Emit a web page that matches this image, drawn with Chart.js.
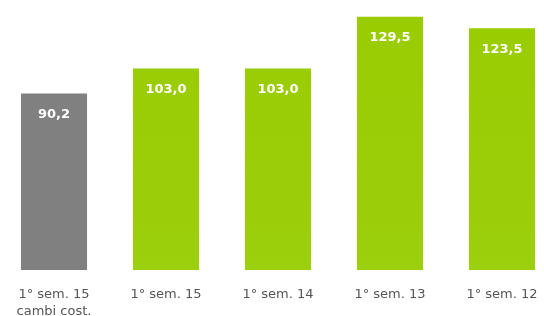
<!DOCTYPE html>
<html>
<head>
<meta charset="utf-8">
<script src="https://cdn.jsdelivr.net/npm/chart.js@4/dist/chart.umd.min.js"></script>
<style>
  html, body { margin: 0; padding: 0; background: #fff; }
  #wrap { width: 544px; height: 316px; }
</style>
</head>
<body>
<div id="wrap"><canvas id="chart"></canvas></div>
<script>
const categories = [["1° sem. 15", "cambi cost."], "1° sem. 15", "1° sem. 14", "1° sem. 13", "1° sem. 12"];
const values = [90.2, 103.0, 103.0, 129.5, 123.5];
const valueLabels = ["90,2", "103,0", "103,0", "129,5", "123,5"];

// labels drawn inside the bars, near the top
const insideLabels = {
  id: "insideLabels",
  afterDatasetsDraw(chart) {
    const ctx = chart.ctx;
    const meta = chart.getDatasetMeta(0);
    ctx.save();
    ctx.fillStyle = "#ffffff";
    ctx.font = "bold 13px 'DejaVu Sans'";
    ctx.textAlign = "center";
    ctx.textBaseline = "middle";
    meta.data.forEach((bar, i) => {
      ctx.fillText(valueLabels[i], bar.x, bar.y + 21);
    });
    ctx.restore();
  }
};

function barColor(context) {
  const chart = context.chart;
  const area = chart.chartArea;
  if (context.dataIndex === 0) return "#808080";
  if (!area) return "#99cc00";
  const g = chart.ctx.createLinearGradient(0, area.top, 0, area.bottom);
  g.addColorStop(0, "#99cc00");
  g.addColorStop(1, "#9ccf0c");
  return g;
}

new Chart(document.getElementById("chart"), {
  type: "bar",
  data: {
    labels: categories,
    datasets: [{
      data: values,
      backgroundColor: barColor,
      categoryPercentage: 1,
      barPercentage: 0.59,
      clip: false
    }]
  },
  plugins: [insideLabels],
  options: {
    responsive: true,
    maintainAspectRatio: false,
    animation: false,
    layout: { padding: { left: 54, right: 42, top: 0, bottom: 0 } },
    plugins: { legend: { display: false }, tooltip: { enabled: false } },
    scales: {
      x: {
        offset: false,
        grid: { display: false },
        border: { display: false },
        afterFit(scale) {
          scale.height = 46;
          scale.paddingLeft = 0;
          scale.paddingRight = 0;
        },
        ticks: {
          color: "#555555",
          font: { family: "'DejaVu Sans'", size: 13, lineHeight: 1.3 },
          padding: 8,
          maxRotation: 0,
          autoSkip: false
        }
      },
      y: {
        display: false,
        min: 0,
        max: 138
      }
    }
  }
});
</script>
</body>
</html>
